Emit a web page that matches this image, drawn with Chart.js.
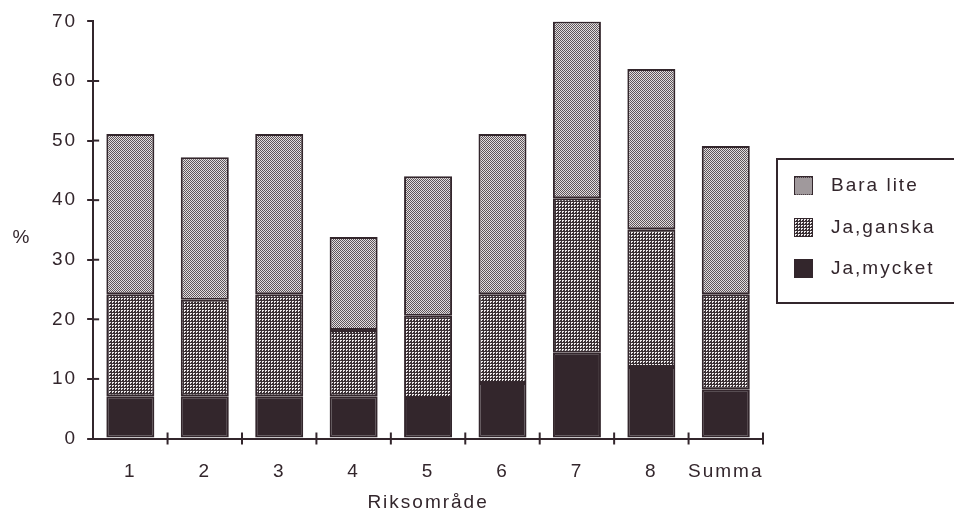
<!DOCTYPE html>
<html>
<head>
<meta charset="utf-8">
<script src="https://cdn.jsdelivr.net/npm/chart.js@4.4.1/dist/chart.umd.min.js"></script>
<style>
  html, body { margin: 0; padding: 0; background: #fff; }
  #wrap { width: 954px; height: 512px; }
</style>
</head>
<body>
<div id="wrap"><canvas id="myChart"></canvas></div>
<script>
// data (percent)
var categories = ['1', '2', '3', '4', '5', '6', '7', '8', 'Summa'];
var jaMycket  = [7.1, 7.1, 7.1, 7.1, 6.8, 9.3, 14.4, 12.0, 8.2];
var jaGanska  = [17.1, 16.2, 17.1, 11.1, 13.8, 14.9, 25.9, 23.1, 16.0];
var baraLite  = [26.9, 23.9, 26.9, 15.6, 23.4, 26.9, 29.7, 26.9, 24.9];
var yTicks    = [0, 10, 20, 30, 40, 50, 60, 70];

var ink = '#33262c';
var fontFam = 'Liberation Sans';

function makePattern(kind) {
  var c = document.createElement('canvas');
  var x = c.getContext('2d');
  if (kind == 'ganska') {
    c.width = 3; c.height = 3;
    x.fillStyle = '#3a3034'; x.fillRect(0, 0, 3, 3);
    x.fillStyle = '#eeeaec'; x.fillRect(1, 1, 2, 1); x.fillRect(1, 2, 1, 1);
  } else if (kind == 'lite') {
    c.width = 2; c.height = 2;
    x.fillStyle = '#e2dee0'; x.fillRect(0, 0, 2, 2);
    x.fillStyle = '#5e5559'; x.fillRect(0, 0, 1, 1); x.fillRect(1, 1, 1, 1);
  } else {
    return ink;
  }
  return x.createPattern(c, 'repeat');
}

// little filled square used as legend swatch
function swatch(fill) {
  var c = document.createElement('canvas');
  c.width = 19; c.height = 19;
  var x = c.getContext('2d');
  x.fillStyle = fill;
  x.fillRect(0, 0, 19, 19);
  x.strokeStyle = ink;
  x.lineWidth = 1;
  x.strokeRect(0.5, 0.5, 18, 18);
  return c;
}

var fills = [makePattern('mycket'), makePattern('ganska'), makePattern('lite')];

// old plotter look: spaced letters, crossing ticks, "%" label, legend frame
var extras = {
  id: 'extras',
  beforeLayout: function (chart) {
    chart.ctx.letterSpacing = '2px';
    var lg = chart.legend;
    if (lg && !lg._wide) {
      var fit = lg.fit;
      lg.fit = function () { fit.call(this); this.width = 191; };
      lg._wide = true;
    }
  },
  afterLayout: function (chart) {
    var lg = chart.legend;
    lg.top -= 2.5;
    lg.bottom -= 2.5;
  },
  beforeDraw: function (chart) {
    chart.ctx.letterSpacing = '2px';
  },
  afterDraw: function (chart) {
    var ctx = chart.ctx;
    var xs = chart.scales.x, ys = chart.scales.y;
    ctx.save();
    ctx.strokeStyle = ink;
    ctx.lineWidth = 2;
    var half = (xs.getPixelForValue(1) - xs.getPixelForValue(0)) / 2;
    for (var i = 0; i < categories.length; i++) {
      var px = xs.getPixelForValue(i) + half;
      ctx.beginPath();
      ctx.moveTo(px, ys.bottom + 6);
      ctx.lineTo(px, ys.bottom - 6);
      ctx.stroke();
    }
    for (var j = 1; j < yTicks.length - 1; j++) {
      var py = ys.getPixelForValue(yTicks[j]);
      ctx.beginPath();
      ctx.moveTo(xs.left, py);
      ctx.lineTo(xs.left + 6, py);
      ctx.stroke();
    }
    ctx.fillStyle = ink;
    ctx.font = '19px "' + fontFam + '"';
    ctx.textAlign = 'center';
    ctx.textBaseline = 'middle';
    ctx.fillText('%', 22, 238);

    ctx.lineWidth = 2;
    ctx.strokeRect(777, 159, 200, 144);
    ctx.restore();
  }
};

var ctx = document.getElementById('myChart').getContext('2d');
var myChart = new Chart(ctx, {
  type: 'bar',
  data: {
    labels: categories,
    datasets: [{
      label: 'Ja,mycket',
      data: jaMycket,
      backgroundColor: fills[0],
      borderColor: ink,
      borderWidth: 2,
      borderSkipped: false
    }, {
      label: 'Ja,ganska',
      data: jaGanska,
      backgroundColor: fills[1],
      borderColor: ink,
      borderWidth: 2,
      borderSkipped: false
    }, {
      label: 'Bara lite',
      data: baraLite,
      backgroundColor: fills[2],
      borderColor: ink,
      borderWidth: 2,
      borderSkipped: false
    }]
  },
  plugins: [extras],
  options: {
    responsive: true,
    maintainAspectRatio: false,
    animation: false,
    layout: {
      padding: { left: 42, right: 0, top: 19, bottom: 0 }
    },
    datasets: {
      bar: { categoryPercentage: 1, barPercentage: 0.645 }
    },
    plugins: {
      tooltip: { enabled: false },
      legend: {
        position: 'right',
        fullSize: false,
        reverse: true,
        align: 'center',
        labels: {
          color: ink,
          font: { family: fontFam, size: 19 },
          usePointStyle: true,
          pointStyleWidth: 36,
          boxHeight: 19,
          padding: 22.5,
          generateLabels: function (chart) {
            return chart.data.datasets.map(function (ds, i) {
              return {
                text: ds.label,
                pointStyle: swatch(fills[i]),
                fillStyle: fills[i],
                strokeStyle: ink,
                lineWidth: 0,
                fontColor: ink,
                datasetIndex: i
              };
            });
          }
        }
      }
    },
    scales: {
      x: {
        stacked: true,
        offset: true,
        grid: {
          offset: true,
          drawOnChartArea: false,
          tickColor: 'rgba(0,0,0,0)',
          tickLength: 24
        },
        border: { color: ink, width: 2 },
        ticks: {
          color: ink,
          padding: 0,
          maxRotation: 0,
          minRotation: 0,
          autoSkip: false,
          font: { family: fontFam, size: 19, lineHeight: 1 }
        },
        title: {
          display: true,
          text: 'Riksområde',
          color: ink,
          font: { family: fontFam, size: 19, lineHeight: 1 },
          padding: { top: 11.5, bottom: 0 }
        }
      },
      y: {
        stacked: true,
        min: 0,
        max: 70,
        afterBuildTicks: function (axis) {
          axis.ticks = yTicks.map(function (v) { return { value: v }; });
        },
        grid: {
          drawOnChartArea: false,
          color: ink,
          lineWidth: 2,
          tickLength: 6
        },
        border: { color: ink, width: 2 },
        ticks: {
          color: ink,
          padding: 10,
          font: { family: fontFam, size: 19 }
        }
      }
    }
  }
});
</script>
</body>
</html>
